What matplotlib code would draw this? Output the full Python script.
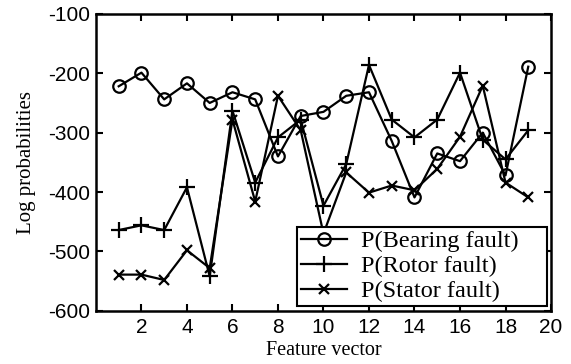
import matplotlib
matplotlib.use("Agg")
import matplotlib.pyplot as plt

plt.rcParams['axes.unicode_minus'] = False

x = list(range(1, 20))
bearing = [-222, -199, -244, -217, -250, -232, -244, -340, -272, -265,
           -238, -232, -314, -409, -335, -348, -300, -372, -189]
rotor = [-464, -456, -464, -392, -542, -263, -384, -308, -278, -423,
         -353, -186, -278, -308, -278, -199, -312, -345, -296]
stator = [-539, -539, -548, -498, -528, -278, -416, -238, -296, -470,
          -367, -401, -389, -397, -361, -307, -221, -384, -409]

fig = plt.figure(figsize=(5.71, 3.64), dpi=100)
ax = fig.add_axes([0.168, 0.146, 0.797, 0.816])

lw = 1.6
ax.plot(x, bearing, color='k', lw=lw, marker='o', ms=9, mfc='none', mew=1.6,
        label='P(Bearing fault)')
ax.plot(x, rotor, color='k', lw=lw, marker='+', ms=12, mew=1.6,
        label='P(Rotor fault)')
ax.plot(x, stator, color='k', lw=lw, marker='x', ms=7, mew=1.6,
        label='P(Stator fault)')

ax.set_xlim(0, 20)
ax.set_ylim(-600, -100)
ax.set_xticks(range(2, 21, 2))
ax.set_yticks(range(-600, -99, 100))
ax.tick_params(direction='in', top=True, right=True, length=5, width=1.5,
               labelsize=15)
ax.tick_params(axis='y', pad=4)
ax.tick_params(axis='x', pad=5)
for lab in ax.get_xticklabels() + ax.get_yticklabels():
    lab.set_family('Liberation Sans')
for s in ax.spines.values():
    s.set_linewidth(1.8)

ax.set_xlabel('Feature vector', family='Liberation Serif', fontsize=14.5, labelpad=3)
ax.set_ylabel('Log probabilities', family='Liberation Serif', fontsize=15, labelpad=9)

leg = ax.legend(loc='lower left', bbox_to_anchor=(0.442, 0.017, 0.549, 0.28),
                mode='expand',
                prop={'family': 'Liberation Serif', 'size': 17.5},
                frameon=True, fancybox=False, edgecolor='k', framealpha=1,
                borderpad=0.15, labelspacing=0.12, handlelength=1.9,
                handletextpad=0.6, borderaxespad=0.0)
leg.get_frame().set_linewidth(1.5)

fig.savefig('out.png', dpi=100)
